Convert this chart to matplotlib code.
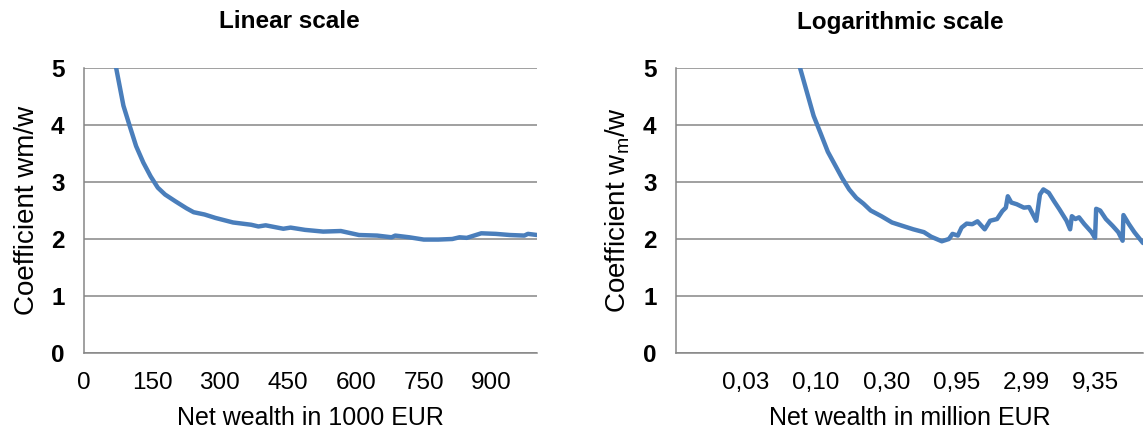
import numpy as np
import matplotlib.pyplot as plt

plt.rcParams['font.family'] = ['Liberation Sans', 'DejaVu Sans']
plt.rcParams['mathtext.default'] = 'regular'

# linear panel: net wealth (1000 EUR) vs coefficient
lin_x = [60, 71, 87, 101, 115, 131, 147, 163, 179, 202, 226, 242, 266, 290, 329, 369,
         385, 401, 440, 456, 488, 528, 567, 607, 647, 679, 687, 718, 750, 782, 813,
         829, 845, 877, 909, 940, 972, 980, 1000]
lin_y = [6.0, 5.0, 4.34, 3.98, 3.63, 3.34, 3.10, 2.90, 2.78, 2.66, 2.54, 2.47, 2.43,
         2.37, 2.29, 2.25, 2.22, 2.24, 2.18, 2.20, 2.16, 2.13, 2.14, 2.07, 2.06, 2.03,
         2.06, 2.03, 1.99, 1.99, 2.00, 2.03, 2.02, 2.10, 2.09, 2.07, 2.06, 2.09, 2.07]

# log panel: net wealth (million EUR) vs coefficient
log_x = [0.065, 0.0735, 0.0817, 0.0918, 0.1031, 0.1159, 0.1303, 0.1465, 0.1645, 0.185,
         0.208, 0.234, 0.279, 0.332, 0.395, 0.471, 0.561, 0.631, 0.752, 0.845, 0.896,
         0.978, 1.04, 1.13, 1.24, 1.35, 1.52, 1.66, 1.86, 2.03, 2.15, 2.22, 2.35, 2.57,
         2.89, 3.15, 3.54, 3.76, 3.98, 4.35, 4.75, 5.18, 5.82, 6.17, 6.35, 6.73, 7.14,
         7.80, 8.77, 9.29, 9.46, 10.1, 11.1, 12.4, 13.6, 14.6, 14.8, 16.2, 17.7, 20.4]
log_y = [5.6, 5.0, 4.60, 4.16, 3.85, 3.53, 3.30, 3.07, 2.87, 2.72, 2.62, 2.50, 2.40,
         2.29, 2.23, 2.17, 2.12, 2.04, 1.96, 2.00, 2.09, 2.06, 2.20, 2.27, 2.26, 2.31,
         2.17, 2.32, 2.35, 2.49, 2.55, 2.75, 2.64, 2.61, 2.55, 2.56, 2.32, 2.78, 2.87,
         2.81, 2.66, 2.52, 2.32, 2.17, 2.40, 2.35, 2.38, 2.26, 2.12, 2.02, 2.53, 2.50,
         2.35, 2.23, 2.12, 1.97, 2.42, 2.26, 2.12, 1.93]

lin_ticks = [0, 150, 300, 450, 600, 750, 900]
log_ticks = [0.0302, 0.0955, 0.302, 0.955, 2.99, 9.35]
log_labels = ['0,03', '0,10', '0,30', '0,95', '2,99', '9,35']

blue = '#4a7ebb'
grey = '#868686'

W, H = 1145, 438
fig = plt.figure(figsize=(W / 100, H / 100), dpi=100)
ax1 = fig.add_axes([84 / W, 1 - 353 / H, (537 - 84) / W, (353 - 68) / H])
ax2 = fig.add_axes([676 / W, 1 - 353 / H, (1143 - 676) / W, (353 - 68) / H])

for ax in (ax1, ax2):
    ax.set_ylim(0, 5)
    ax.set_yticks([0, 1, 2, 3, 4, 5])
    ax.grid(axis='y', color=grey, linewidth=1.1)
    ax.set_axisbelow(True)
    for s in ['top', 'right']:
        ax.spines[s].set_visible(False)
    for s in ['left', 'bottom']:
        ax.spines[s].set_color(grey)
        ax.spines[s].set_linewidth(1.1)
    ax.tick_params(length=0, labelsize=17.5)
    ax.tick_params(axis='y', pad=14)
    ax.tick_params(axis='x', pad=14)
    for t in ax.get_yticklabels():
        t.set_fontweight('bold')

ax1.plot(lin_x, lin_y, color=blue, linewidth=3.2, solid_capstyle='round')
ax1.set_xlim(0, 1000)
ax1.set_xticks(lin_ticks)
ax1.set_xlabel('Net wealth in 1000 EUR', fontsize=18, labelpad=8)
ax1.set_ylabel('Coefficient wm/w', fontsize=20, labelpad=8)

ax2.plot(log_x, log_y, color=blue, linewidth=3.2, solid_capstyle='round')
ax2.set_xscale('log')
ax2.set_xlim(0.0096, 20.4)
ax2.set_xticks(log_ticks)
ax2.set_xticklabels(log_labels)
ax2.minorticks_off()
ax2.tick_params(axis='x', length=0, labelsize=17.5)
ax2.set_xlabel('Net wealth in million EUR', fontsize=18, labelpad=8)
ax2.set_ylabel('Coefficient w$_m$/w', fontsize=20, labelpad=8)

fig.text(289 / W, 1 - 22 / H, 'Linear scale', ha='center', va='center',
         fontsize=17.5, fontweight='bold')
fig.text(900 / W, 1 - 22 / H, 'Logarithmic scale', ha='center', va='center',
         fontsize=17.5, fontweight='bold')

fig.savefig('out.png', dpi=100)
